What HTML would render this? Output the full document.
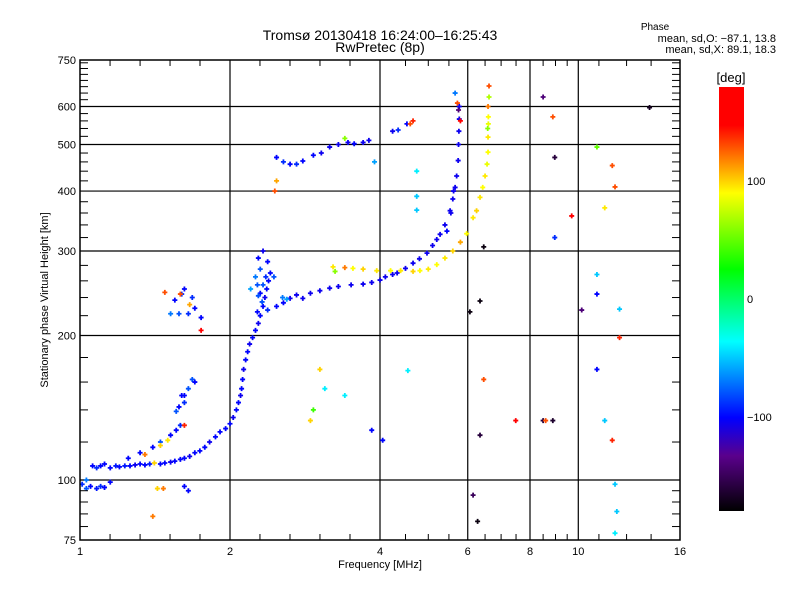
<!DOCTYPE html>
<html><head><meta charset="utf-8"><style>
body{margin:0;background:#fff}
svg{display:block;font-family:"Liberation Sans",sans-serif}
</style></head><body>
<svg id="chart" width="800" height="600" viewBox="0 0 800 600" xmlns="http://www.w3.org/2000/svg">
<rect x="0" y="0" width="800" height="600" fill="#fff"/>
<text x="380" y="40" font-size="14" text-anchor="middle">Tromsø 20130418 16:24:00–16:25:43</text>
<text x="380" y="52" font-size="14" text-anchor="middle">RwPretec (8p)</text>
<text x="655" y="30" font-size="10" text-anchor="middle">Phase</text>
<text x="776" y="42" font-size="11" text-anchor="end">mean, sd,O: −87.1, 13.8</text>
<text x="776" y="53" font-size="11" text-anchor="end">mean, sd,X:  89.1, 18.3</text>
<g id="grid"></g>
<g id="marks"></g>
<rect x="80" y="60" width="600" height="480" fill="none" stroke="#000" stroke-width="1.5"/>
<g id="axes"></g>
<text x="380" y="568" font-size="11" text-anchor="middle">Frequency [MHz]</text>
<text transform="translate(48,300) rotate(-90)" font-size="11" text-anchor="middle">Stationary phase Virtual Height [km]</text>
<defs><linearGradient id="cb" x1="0" y1="0" x2="0" y2="1">
<stop offset="0" stop-color="#ff0000"/><stop offset="0.09" stop-color="#ff0000"/><stop offset="0.25" stop-color="#ffff00"/><stop offset="0.43" stop-color="#00ff00"/><stop offset="0.60" stop-color="#00ffff"/><stop offset="0.78" stop-color="#0000ff"/><stop offset="0.87" stop-color="#5a008c"/><stop offset="1" stop-color="#000000"/>
</linearGradient></defs>
<rect x="719" y="87" width="25" height="424" fill="url(#cb)"/>
<text x="731" y="82" font-size="13" text-anchor="middle">[deg]</text>
<g id="cbticks"></g>
</svg>
<script>
const xTickVals = [1,2,4,6,8,10,16];
const xGridVals = [2,4,6,8,10];
const xMinorVals = [1.149,1.32,1.516,1.741,2.297,2.639,3.031,3.482,4.5,5,5.5,6.5,7,7.5,8.5,9,9.5,11,12.5,14];
const yTickVals = [75,100,200,300,400,500,600,750];
const yGridVals = [100,200,300,400,500,600];
const yMinorVals = [80,85,90,95,120,140,160,180,220,240,260,280,320,340,360,380,420,440,460,480,520,540,560,580,620,640,660,680,700,720,740];
const cbTickVals = [100,0,-100];

const freq = [
1.01,1.03,1.05,1.08,1.10,1.12,1.15,1.03,
1.06,1.08,1.10,1.12,1.15,1.18,1.20,1.23,1.26,1.29,1.32,1.35,1.38,1.41,1.45,1.48,1.52,1.55,1.59,1.62,1.66,1.70,1.74,1.78,1.82,1.87,1.91,1.96,2.0,2.03,2.06,2.08,2.10,2.11,2.12,2.13,2.15,2.17,2.19,2.22,2.25,2.28,2.30,2.33,2.35,2.37,2.39,2.41,2.33,2.36,2.30,2.32,
2.27,2.38,2.48,2.56,2.64,2.72,2.80,2.90,3.03,3.17,3.3,3.5,3.70,3.85,4.0,4.1,4.24,4.33,4.5,4.66,4.8,4.97,5.1,5.20,5.28,5.4,5.53,5.6,5.66,5.70,5.74,5.75,5.76,5.77,5.77,5.75,5.45,5.55,5.62,5.80,5.72,
2.25,2.27,2.30,2.28,2.33,2.38,2.45,2.55,2.60,2.20,2.28,
3.22,3.4,3.53,3.7,3.94,4.2,4.4,4.66,4.81,5.0,5.2,5.4,5.6,5.8,5.97,6.15,6.25,6.35,6.43,6.50,6.56,6.59,6.59,6.60,6.60,6.59,6.62,6.62,6.58,3.25,
2.48,2.56,2.64,2.72,2.80,2.94,3.05,3.17,3.3,3.45,3.55,3.70,3.8,4.24,4.35,4.53,4.66,4.6,5.66,2.48,2.46,3.4,
1.55,1.60,1.62,1.68,1.70,1.65,1.58,1.52,1.75,1.48,1.59,1.66,1.75,
1.62,1.65,1.68,1.70,1.62,1.58,1.56,1.60,
1.25,1.32,1.40,1.45,1.52,1.56,1.59,1.50,1.45,1.35,1.62,
1.43,1.47,1.62,1.65,1.40,
6.06,6.46,6.35,6.46,6.35,6.28,6.15,7.49,8.5,8.6,8.89,8.5,8.89,8.97,8.97,9.7,10.9,11.7,11.85,11.3,10.9,10.9,12.1,10.16,12.1,10.9,11.3,11.7,11.85,11.95,11.85,13.9,
4.55,4.05,3.85,3.03,2.94,2.9,3.1,3.4,4.74,4.74,4.74,3.9
];
const height = [
98,96,97,96,97,96.5,99,100,
107,106,107,108,106,107,106.5,107,107,107.5,108,107.5,108,108.5,108,108.5,109,109.5,110.4,111,112,114,115,117,120,123,126,128,131,135,140,145,150,155,162,170,178,185,192,198,205,212,220,230,240,250,260,270,255,265,245,235,
224,226,230,234,239,243,239,245,248,251,253,255,256,258,261,265,268,270,276,283,289,297,308,317,325,340,364,385,407,430,463,500,533,565,600,590,330,360,400,560,610,
265,255,275,290,300,285,265,240,238,250,242,
278,277,276,275,273,273,273,272,273,275,281,290,300,313,326,352,364,388,407,430,455,482,518,552,571,600,662,628,540,272,
470,460,455,455,462,475,480,494,500,505,502,505,510,533,536,552,560,552,640,420,400,515,
237,244,250,240,228,222,222,222,218,246,244,232,205,
150,155,162,160,145,142,139,150,
111,114,117,120,124,127,130,121,118,113,130,
96,96,97,95,84,
224,306,236,162,124,82,93,133,133,133,133,628,571,470,320,355,494,452,408,369,268,244,227,226,198,170,133,121,98,86,77.5,597,
169,121,127,170,140,133,155,150,440,390,365,460
];
const phase = [
-90,-80,-100,-95,-90,-100,-100,-70,
-100,-90,-100,-100,-100,-95,-100,-95,-100,-105,-100,-100,-95,100,-100,-100,-105,-100,-100,-100,-105,-100,-100,-100,-105,-100,-100,-100,-100,-105,-100,-100,-105,-100,-100,-105,-100,-100,-105,-100,-100,-105,-100,-100,-105,-100,-100,-100,-80,-90,-100,-80,
-100,-90,-100,-100,-105,-105,-105,-105,-105,-105,-105,-105,-105,-105,-105,-105,-105,-105,-105,-105,-105,-105,-105,-105,-105,-105,-105,-105,-105,-105,-105,-105,-105,-105,-105,-140,-100,-105,-105,170,130,
-70,-80,-80,-100,-105,-100,-80,-70,-60,-60,-80,
95,120,90,100,95,90,95,100,90,95,90,95,100,110,90,95,100,95,90,95,85,90,95,85,90,120,130,70,60,60,
-100,-90,-100,-90,-100,-100,-105,-105,-105,-105,-100,-105,-105,-105,-90,-100,140,130,-70,110,130,60,
-100,-90,-100,-90,-100,-90,-80,-70,-100,130,130,110,160,
-100,-80,-80,-100,-90,-100,-80,-100,
-100,-100,-100,-80,-100,-100,-90,95,100,120,140,
100,120,-100,-100,120,
-175,-175,-175,130,-160,-175,-150,175,-160,130,-165,-140,130,-160,-90,150,50,130,130,95,-50,-100,-50,-140,140,-100,-50,140,-50,-50,-40,-170,
-40,-100,-100,100,40,100,-40,-40,-40,-50,-50,-60
];

const NS='http://www.w3.org/2000/svg';
const X0=80,X1=680,Y0=540,Y1=60;
function xScale(f){return X0+(X1-X0)*Math.log2(f)/4;}
function yScale(h){return Y0-(Y0-Y1)*Math.log10(h/75);}
function cbScale(p){return 87+424*(180-p)/360;}
const stops=[[0,[255,0,0]],[0.09,[255,0,0]],[0.25,[255,255,0]],[0.43,[0,255,0]],[0.60,[0,255,255]],[0.78,[0,0,255]],[0.87,[90,0,140]],[1,[0,0,0]]];
function color(p){let t=(180-p)/360;t=Math.max(0,Math.min(1,t));
 for(let i=1;i<stops.length;i++){if(t<=stops[i][0]){const a=stops[i-1],b=stops[i];const u=(t-a[0])/(b[0]-a[0]||1);
 const c=a[1].map((v,k)=>Math.round(v+(b[1][k]-v)*u));return 'rgb('+c.join(',')+')';}}return '#000';}
function mk(tag,attrs,parent){const e=document.createElementNS(NS,tag);for(const k in attrs)e.setAttribute(k,attrs[k]);parent.appendChild(e);return e;}

const grid=document.getElementById('grid'),axes=document.getElementById('axes'),marks=document.getElementById('marks'),cbt=document.getElementById('cbticks');
xGridVals.forEach(v=>{const x=xScale(v);const l=mk('line',{x1:x,x2:x,y1:Y1,y2:Y0,stroke:'#000','stroke-width':1.2},grid);

});
yGridVals.forEach(v=>{const y=yScale(v);const l=mk('line',{x1:X0,x2:X1,y1:y,y2:y,stroke:'#000','stroke-width':1.2},grid);

});
xMinorVals.forEach(v=>{const x=xScale(v);[[Y1,Y1+6],[Y0,Y0-6]].forEach(p=>{const l=mk('line',{x1:x,x2:x,y1:p[0],y2:p[1],stroke:'#000','stroke-width':1},axes);

});});
yMinorVals.forEach(v=>{const y=yScale(v);[[X0,X0+8],[X1,X1-8]].forEach(p=>{const l=mk('line',{x1:p[0],x2:p[1],y1:y,y2:y,stroke:'#000','stroke-width':1},axes);

});});
xTickVals.forEach(v=>{const t=mk('text',{x:xScale(v),y:555,'font-size':11,'text-anchor':'middle'},axes);t.textContent=v;

});
yTickVals.forEach(v=>{const t=mk('text',{x:X0-4,y:yScale(v)+4,'font-size':11,'text-anchor':'end'},axes);t.textContent=v;

});
cbTickVals.forEach(v=>{const t=mk('text',{x:747,y:cbScale(v)+4,'font-size':11},cbt);t.textContent=(v<0?'−':'')+Math.abs(v);

});
for(let i=0;i<freq.length;i++){const x=xScale(freq[i]),y=yScale(height[i]);const c=color(phase[i]);
 const g=mk('path',{d:'M'+(x-2.5)+' '+y+'h5M'+x+' '+(y-2.5)+'v5',stroke:c,'stroke-width':1.8,fill:'none'},marks);
 
 }
</script>
</body></html>
